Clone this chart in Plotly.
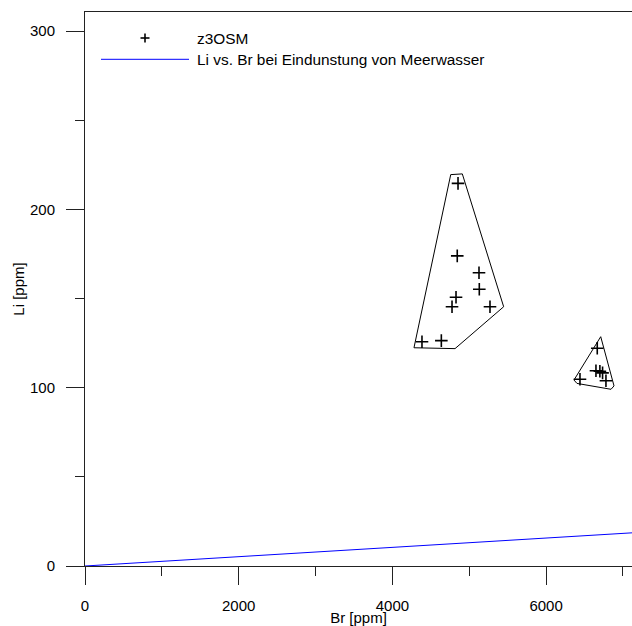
import plotly.graph_objects as go

# --- data ---
br_z3osm = [4854, 4844, 5127, 5131, 4828, 4776, 5270, 4385, 4637,
            6666, 6441, 6649, 6700, 6735, 6779]
li_z3osm = [214.6, 173.9, 164.5, 155.2, 150.7, 145.4, 145.4, 125.8, 126.4,
            122.1, 104.7, 109.5, 109.2, 108.3, 103.9]

hull1_br = [4759, 4910, 5448, 4815, 4281, 4759]
hull1_li = [219.5, 219.9, 145.4, 121.9, 122.4, 219.5]

hull2_br = [6711, 6884, 6845, 6402, 6363, 6711]
hull2_li = [128.6, 101.0, 99.1, 102.4, 104.3, 128.6]

br_sea = [0, 8000]
li_sea = [0, 20.9]

x_ticks = [0, 2000, 4000, 6000]
y_ticks = [0, 100, 200, 300]

legend_labels = ["z3OSM", "Li vs. Br bei Eindunstung von Meerwasser"]

FONT = "Liberation Sans, Arial, sans-serif"
AX = "#222222"
FS = 15

fig = go.Figure()
fig.add_trace(go.Scatter(x=br_sea, y=li_sea, mode="lines",
                         line=dict(color="#0000ff", width=1), showlegend=False))
for hx, hy in [(hull1_br, hull1_li), (hull2_br, hull2_li)]:
    fig.add_trace(go.Scatter(x=hx, y=hy, mode="lines",
                             line=dict(color="black", width=1), showlegend=False))
fig.add_trace(go.Scatter(x=br_z3osm, y=li_z3osm, mode="markers",
                         marker=dict(symbol="cross-thin", size=9,
                                     line=dict(color="black", width=1.6)),
                         showlegend=False))

W, H = 632, 626
L, R, T, B = 85, 0, 12, 60
pw, ph = W - L - R, H - T - B

def px(x):
    return (x - L) / pw

def py(y):
    return (H - B - y) / ph

# manual legend
shapes = [
    dict(type="line", xref="paper", yref="paper", x0=px(140.5), x1=px(149.5), y0=py(38), y1=py(38),
         line=dict(color="black", width=1.6)),
    dict(type="line", xref="paper", yref="paper", x0=px(145), x1=px(145), y0=py(33.5), y1=py(42.5),
         line=dict(color="black", width=1.6)),
    dict(type="line", xref="paper", yref="paper", x0=px(101), x1=px(189), y0=py(59.3), y1=py(59.3),
         line=dict(color="#0000ff", width=1)),
]
annotations = [
    dict(xref="paper", yref="paper", x=px(195), y=py(38), text=legend_labels[0],
         showarrow=False, xanchor="left", yanchor="middle", font=dict(size=15.4, color="black", family=FONT)),
    dict(xref="paper", yref="paper", x=px(195), y=py(59.5), text=legend_labels[1],
         showarrow=False, xanchor="left", yanchor="middle", font=dict(size=15.4, color="black", family=FONT)),
]

fig.update_layout(
    width=W, height=H,
    margin=dict(l=L, r=R, t=T, b=B, pad=0),
    paper_bgcolor="white", plot_bgcolor="white",
    font=dict(family=FONT, size=FS, color="black"),
    shapes=shapes, annotations=annotations,
    showlegend=False,
)
fig.update_xaxes(
    range=[0, 7118], tickvals=x_ticks, ticks="outside", ticklen=18, tickcolor=AX, tickwidth=1,
    minor=dict(dtick=1000, tick0=0, ticks="outside", ticklen=9, tickcolor=AX, tickwidth=1),
    showline=True, linecolor=AX, linewidth=1, mirror=True,
    showgrid=False, zeroline=False,
    title=dict(text="Br [ppm]", standoff=0, font=dict(size=FS)),
    ticklabelstandoff=8,
)
fig.update_yaxes(
    range=[0, 310.7], tickvals=y_ticks, ticks="outside", ticklen=18, tickcolor=AX, tickwidth=1,
    minor=dict(dtick=50, tick0=0, ticks="outside", ticklen=9, tickcolor=AX, tickwidth=1),
    showline=True, linecolor=AX, linewidth=1, mirror=False,
    showgrid=False, zeroline=False,
    title=dict(text="Li [ppm]", standoff=1, font=dict(size=FS)),
    ticklabelstandoff=8,
)

fig.write_html("out.html")
